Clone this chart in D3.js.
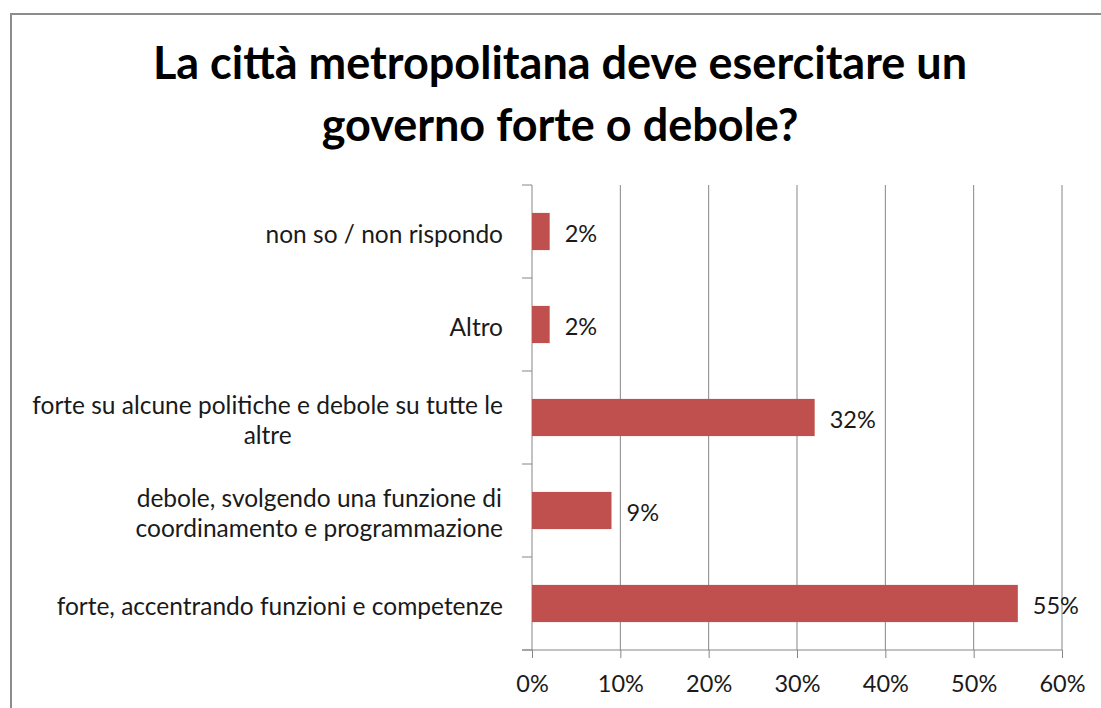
<!DOCTYPE html>
<html>
<head>
<meta charset="utf-8">
<script src="https://cdn.jsdelivr.net/npm/d3@7"></script>
<style>
  html, body { margin: 0; padding: 0; background: #fff; }
  svg { display: block; }
</style>
</head>
<body>
<svg id="chart" width="1101" height="708"></svg>
<script>
// Survey answers, listed top to bottom as shown on the vertical axis
const categories = [
  "non so / non rispondo",
  "Altro",
  "forte su alcune politiche e debole su tutte le\naltre",
  "debole, svolgendo una funzione di\ncoordinamento e programmazione",
  "forte, accentrando funzioni e competenze"
];
const values = [2, 2, 32, 9, 55];
const xTicks = [0, 10, 20, 30, 40, 50, 60];
const titleLines = ["La città metropolitana deve esercitare un", "governo forte o debole?"];

const W = 1101, H = 708;
const margin = { left: 532, right: 1062, top: 185, bottom: 650 };
const fontFamily = "Lato, 'Open Sans', sans-serif";
const gridColor = "#868686";
const barColor = "#C0504D";
const textColor = "#1a1a1a";

const svg = d3.select("#chart");

// chart frame
svg.append("rect")
  .attr("x", 11).attr("y", 14)
  .attr("width", W + 20).attr("height", H + 20)
  .attr("fill", "#fff")
  .attr("stroke", "#8c8c8c").attr("stroke-width", 2);

// title
svg.append("text")
  .attr("font-family", fontFamily)
  .attr("font-weight", 700)
  .attr("font-size", 45)
  .attr("fill", "#000")
  .attr("text-anchor", "middle")
  .selectAll("tspan")
  .data(titleLines)
  .join("tspan")
  .attr("x", 560)
  .attr("y", (d, i) => 79 + i * 62)
  .text(d => d);

const x = d3.scaleLinear().domain([0, 60]).range([margin.left, margin.right]);
const y = d3.scaleBand()
  .domain(categories)
  .range([margin.top, margin.bottom])
  .paddingInner(0.6)
  .paddingOuter(0.3);

// vertical gridlines
svg.append("g")
  .selectAll("line")
  .data(xTicks.filter(t => t > 0))
  .join("line")
  .attr("x1", d => x(d)).attr("x2", d => x(d))
  .attr("y1", margin.top).attr("y2", margin.bottom)
  .attr("stroke", gridColor).attr("stroke-width", 1);

// x axis
const xAxis = svg.append("g")
  .attr("transform", `translate(0,${margin.bottom})`)
  .call(d3.axisBottom(x).tickValues(xTicks).tickFormat(d => d + "%").tickSize(8).tickPadding(17));
xAxis.select(".domain").remove();
xAxis.append("line")
  .attr("x1", margin.left - 10).attr("x2", margin.right)
  .attr("stroke", gridColor);
xAxis.selectAll(".tick line").attr("stroke", gridColor);
xAxis.selectAll(".tick text")
  .attr("font-family", fontFamily).attr("font-size", 23.5).attr("fill", textColor);

// y axis: line plus ticks on category boundaries
const yAxis = svg.append("g");
yAxis.append("line")
  .attr("x1", margin.left).attr("x2", margin.left)
  .attr("y1", margin.top).attr("y2", margin.bottom)
  .attr("stroke", gridColor);
const step = y.step();
yAxis.selectAll("line.tk")
  .data(d3.range(categories.length + 1))
  .join("line")
  .attr("class", "tk")
  .attr("x1", margin.left - 10).attr("x2", margin.left)
  .attr("y1", i => margin.top + i * step).attr("y2", i => margin.top + i * step)
  .attr("stroke", gridColor);

// category labels, wrapped lines centred inside a right-aligned block
const labelRight = 503;
const lineH = 30;
const catLabels = svg.append("g")
  .attr("font-family", fontFamily).attr("font-size", 24.5).attr("fill", textColor);
categories.forEach(c => {
  const lines = c.split("\n");
  const t = catLabels.append("text")
    .attr("text-anchor", "middle")
    .attr("dominant-baseline", "central");
  const cy = y(c) + y.bandwidth() / 2 + 1;
  lines.forEach((ln, i) => {
    t.append("tspan")
      .attr("y", cy + (i - (lines.length - 1) / 2) * lineH)
      .text(ln);
  });
  // measure widest line and place block flush right
  const widths = t.selectAll("tspan").nodes().map(n => n.getComputedTextLength());
  const maxW = d3.max(widths);
  t.selectAll("tspan").attr("x", labelRight - maxW / 2);
});

// bars
svg.append("g")
  .selectAll("rect")
  .data(categories)
  .join("rect")
  .attr("x", x(0))
  .attr("y", d => y(d))
  .attr("width", (d, i) => x(values[i]) - x(0))
  .attr("height", y.bandwidth())
  .attr("fill", barColor);

// value labels
svg.append("g")
  .attr("font-family", fontFamily).attr("font-size", 23.5).attr("fill", textColor)
  .selectAll("text")
  .data(categories)
  .join("text")
  .attr("x", (d, i) => x(values[i]) + 15)
  .attr("y", d => y(d) + y.bandwidth() / 2 + 1)
  .attr("dominant-baseline", "central")
  .text((d, i) => values[i] + "%");
</script>
</body>
</html>
